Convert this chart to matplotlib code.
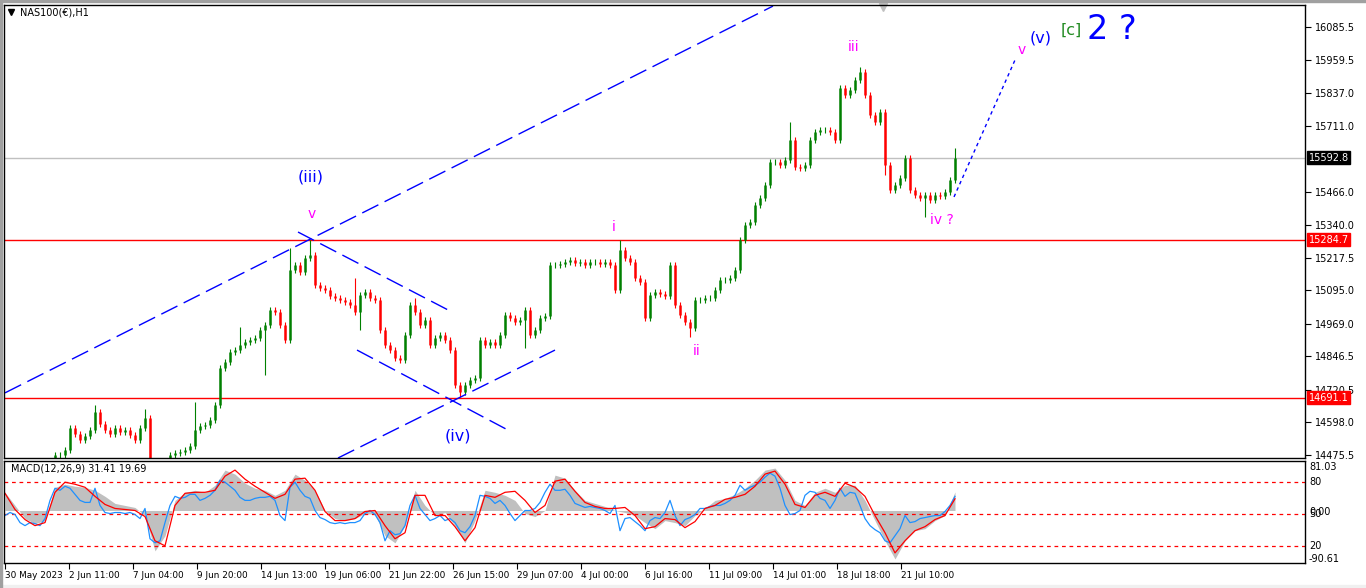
import matplotlib.pyplot as plt
import numpy as np

# hourly closes, one sample every 5 bars (30 May - 24 Jul 2023)
closes = [
    14400, 14389, 14411, 14396, 14419, 14404, 14426, 14411, 14434, 14449,
    14475, 14475, 14494, 14577, 14554, 14532, 14547, 14569, 14637, 14592,
    14569, 14554, 14577, 14562, 14569, 14551, 14532, 14577, 14614, 14411,
    14396, 14419, 14449, 14475, 14483, 14487, 14494, 14509, 14569, 14584,
    14588, 14607, 14663, 14803, 14825, 14863, 14870, 14889, 14900, 14908,
    14915, 14946, 14964, 15021, 15013, 14964, 14908, 15171, 15190, 15164,
    15216, 15228, 15115, 15104, 15096, 15073, 15066, 15058, 15051, 15040,
    15013, 15077, 15088, 15066, 15058, 14946, 14889, 14870, 14840, 14833,
    14927, 15040, 15013, 14964, 14983, 14889, 14915, 14927, 14908, 14870,
    14739, 14712, 14739, 14757, 14765, 14908, 14889, 14900, 14889, 14927,
    15002, 14991, 14976, 14983, 15021, 14927, 14946, 14991, 14998, 15190,
    15190, 15194, 15201, 15209, 15198, 15201, 15190, 15201, 15201, 15194,
    15201, 15190, 15096, 15246, 15216, 15201, 15141, 15126, 14991, 15077,
    15088, 15081, 15073, 15190, 15040, 15002, 14976, 14953, 15058, 15058,
    15066, 15066, 15096, 15134, 15134, 15141, 15171, 15284, 15341, 15352,
    15416, 15442, 15491, 15578, 15578, 15566, 15585, 15660, 15559, 15555,
    15566, 15660, 15690, 15698, 15698, 15690, 15660, 15856, 15830, 15848,
    15886, 15916, 15830, 15754, 15728, 15766, 15566, 15472, 15491, 15517,
    15593, 15472, 15453, 15442, 15453, 15435, 15453, 15450, 15465, 15510,
    15592.8,
]
spike_idx = [18, 28, 38, 47, 52, 57, 61, 70, 71, 82, 91, 104, 123, 137, 147, 157, 171, 176, 184, 190]
spike_price = [14663, 14648, 14675, 14957, 14776, 15254, 15284.7, 15141, 14946, 15066,
               14693, 14878, 15284, 14919, 15209, 15728, 15935, 15530, 15371, 15630]

# MACD panel, histogram and signal one sample every 10 bars
macd_hist = [
    30.6, 8.5, -13.6, -22.1, -17, 39.1, 44.2, 40.8, 39.1, 34,
    23.8, 11.9, 8.5, 5.1, -8.5, -68, -42.5, 17, 30.6, 34,
    30.6, 42.5, 68, 61.2, 45.9, 37.4, 34, 25.5, 34, 61.2,
    51, 34, 0, -13.6, -17, -13.6, -5.1, -6.8, -42.5, -54.4,
    -25.5, 34, 8.5, -8.5, -3.4, -25.5, -54.4, -17, 34, 30.6,
    25.5, 17, -5.1, -10.2, 0, 59.5, 54.4, 34, 17, 11.9,
    6.8, 0, -3.4, -8.5, -20.4, -30.6, -17, -20.4, -25.5, -8.5,
    3.4, 17, 20.4, 27.2, 37.4, 51, 68, 71.4, 51, 17,
    8.5, 30.6, 37.4, 30.6, 42.5, 42.5, 17, -17, -51, -81.6,
    -51, -34, -30.6, -17, -8.5, 31.41,
]
macd_signal = [
    28.9, 1.7, -15.3, -25.5, -20.4, 30.6, 47.6, 44.2, 39.1, 23.8,
    10.2, 3.4, 1.7, 0, -10.2, -51, -59.5, 8.5, 28.9, 30.6,
    30.6, 34, 57.8, 68, 52.7, 40.8, 30.6, 20.4, 27.2, 52.7,
    54.4, 34, -1.7, -17, -17, -13.6, -1.7, 0, -25.5, -47.6,
    -37.4, 25.5, 25.5, -8.5, -8.5, -27.2, -51, -28.9, 25.5, 22.1,
    30.6, 32.3, 17, -3.4, 8.5, 49.3, 52.7, 32.3, 13.6, 6.8,
    3.4, 3.4, 5.1, -8.5, -30.6, -27.2, -13.6, -15.3, -28.9, -18.7,
    3.4, 8.5, 18.7, 22.1, 27.2, 40.8, 61.2, 66.3, 44.2, 10.2,
    5.1, 25.5, 30.6, 23.8, 45.9, 39.1, 23.8, -8.5, -37.4, -71.4,
    -51, -34, -27.2, -15.3, -8.5, 19.69,
]
# fast line, one sample every 5 bars
macd_fast = [
    -8.5, -3.4, -6.8, -20.4, -25.5, -20.4, -22.1, -25.5, -13.6, 17,
    37.4, 34, 40.8, 37.4, 27.2, 17, 13.6, 13.6, 37.4, 8.5,
    -3.4, -5.1, -3.4, -3.4, -5.1, -3.4, -6.8, -13.6, 3.4, -47.6,
    -54.4, -51, -20.4, 8.5, 23.8, 20.4, 22.1, 27.2, 27.2, 17,
    20.4, 25.5, 34, 51, 47.6, 40.8, 34, 22.1, 17, 17,
    20.4, 22.1, 22.1, 23.8, 17, -8.5, -17, 39.1, 47.6, 34,
    23.8, 20.4, 0, -11.9, -15.3, -20.4, -22.1, -20.4, -22.1, -20.4,
    -20.4, -17, -5.1, 0, -6.8, -20.4, -51, -34, -40.8, -39.1,
    -25.5, 8.5, 25.5, 3.4, -6.8, -17, -13.6, -8.5, -17, -13.6,
    -20.4, -34, -37.4, -27.2, -8.5, 25.5, 23.8, 20.4, 11.9, 17,
    8.5, -5.1, -17, -8.5, 0, 0, 3.4, 13.6, 30.6, 44.2,
    34, 34, 35.7, 25.5, 11.9, 8.5, 5.1, 6.8, 5.1, 3.4,
    0, -5.1, 8.5, -34, -13.6, -11.9, -18.7, -25.5, -34, -17,
    -11.9, -13.6, -3.4, 17, -8.5, -25.5, -15.3, -11.9, -6.8, 3.4,
    3.4, 6.8, 8.5, 8.5, 11.9, 17, 25.5, 42.5, 34, 39.1,
    42.5, 47.6, 56.1, 62.9, 57.8, 37.4, 8.5, -6.8, -5.1, 0,
    25.5, 32.3, 30.6, 20.4, 17, 3.4, 17, 37.4, 23.8, 30.6,
    28.9, 8.5, -13.6, -25.5, -32.3, -37.4, -51, -54.4, -42.5, -30.6,
    -8.5, -20.4, -18.7, -13.6, -11.9, -10.2, -8.5, -8.5, -1.7, 8.5,
    23.8,
]
macd_levels = [47.6, -5.1, -59.5]

date_labels = ["30 May 2023", "2 Jun 11:00", "7 Jun 04:00", "9 Jun 20:00", "14 Jun 13:00",
               "19 Jun 06:00", "21 Jun 22:00", "26 Jun 15:00", "29 Jun 07:00", "4 Jul 00:00",
               "6 Jul 16:00", "11 Jul 09:00", "14 Jul 01:00", "18 Jul 18:00", "21 Jul 10:00"]
price_ticks = [16085.5, 15959.5, 15837.0, 15711.0, 15466.0, 15340.0, 15217.5,
               15095.0, 14969.0, 14846.5, 14720.5, 14598.0, 14475.5]
last_price = 15592.8
red_levels = [15284.7, 14691.1]

# wave labels (sample index, price)
wave_text = ["(iii)", "v", "(iv)", "i", "ii", "iii", "iv ?", "v", "(v)", "[c]", "2 ?"]
wave_x = [61.2, 61.4, 90.6, 121.8, 138.4, 169.8, 187.4, 203.4, 207.2, 213.2, 221.4]
wave_y = [15521, 15382, 14547, 15333, 14867, 16010, 15359, 15999, 16044, 16074, 16074]
wave_color = ["blue", "#ff00ff", "blue", "#ff00ff", "#ff00ff", "#ff00ff", "#ff00ff",
              "#ff00ff", "blue", "#228b22", "blue"]
wave_size = [11.5, 10, 11.5, 10, 10, 10, 10, 10, 11.5, 11.5, 24]

# trend lines (x0, p0, x1, p1)
channel_lines = [
    (0, 14709, 153.6, 16164),
    (66.6, 14464, 110, 14870),
    (58.6, 15314, 88.6, 15021),
    (70.4, 14870, 100.6, 14569),
]
projection = (189.8, 15446, 202, 15961)

W, H = 1366, 588
fig = plt.figure(figsize=(W / 100, H / 100), dpi=100)
ax = fig.add_axes([4 / W, 1 - 458 / H, 1301 / W, 453 / H])
am = fig.add_axes([4 / W, 1 - 563 / H, 1301 / W, 102 / H])

closes = np.array(closes, dtype=float)
opens = np.r_[closes[0], closes[:-1]]
x = np.arange(len(closes))
hi = np.maximum(opens, closes) + 12
lo = np.minimum(opens, closes) - 12
for i, p in zip(spike_idx, spike_price):
    if p > hi[i]:
        hi[i] = p
    elif p < lo[i]:
        lo[i] = p
cols = np.where(closes >= opens, "#008000", "#ff0000")

ax.axhline(last_price, color="#c0c0c0", lw=1)
for lv in red_levels:
    ax.axhline(lv, color="#ff0000", lw=1)

ax.vlines(x, lo, hi, colors=cols, lw=0.8)
ax.vlines(x, opens, closes, colors=cols, lw=1.8)

for x0, p0, x1, p1 in channel_lines:
    ax.plot([x0, x1], [p0, p1], color="#0000ff", lw=1, dashes=(13, 5))
ax.plot([projection[0], projection[2]], [projection[1], projection[3]],
        color="#0000ff", lw=1, dashes=(2.5, 2.5))

for t, tx, ty, c, s in zip(wave_text, wave_x, wave_y, wave_color, wave_size):
    ax.text(tx, ty, t, color=c, fontsize=s, ha="center", va="center")

ax.set_xlim(-0.2, 260)
ax.set_ylim(14464, 16168)
ax.set_xticks([])
ax.yaxis.tick_right()
ax.set_yticks(price_ticks)
ax.set_yticklabels(["%.1f" % v for v in price_ticks])
ax.tick_params(axis="y", direction="out", length=4, labelsize=7, pad=3, colors="black")
for sp in ax.spines.values():
    sp.set_color("black")
    sp.set_linewidth(1)

tr = ax.get_yaxis_transform()
ax.text(1.003, last_price, "%.1f" % last_price, transform=tr, fontsize=7, color="white",
        va="center", ha="left", zorder=5,
        bbox=dict(boxstyle="square,pad=0.15", fc="black", ec="black"))
for lv in red_levels:
    ax.text(1.003, lv, "%.1f" % lv, transform=tr, fontsize=7, color="white",
            va="center", ha="left", zorder=5,
            bbox=dict(boxstyle="square,pad=0.15", fc="#ff0000", ec="#ff0000"))

ax.plot([0.0054], [0.9845], marker="v", color="black", ms=4, transform=ax.transAxes)
ax.text(0.0123, 0.9845, "NAS100(\u20ac),H1", transform=ax.transAxes, fontsize=7,
        va="center", ha="left")
ax.plot([0.6756], [0.9956], marker="v", color="#c0c0c0", ms=6, transform=ax.transAxes,
        clip_on=False)

# MACD panel
xh = np.arange(len(macd_hist)) * 2
xf = np.arange(len(macd_fast))
am.fill_between(xh, 0, macd_hist, color="#c0c0c0", lw=0)
for lv in macd_levels:
    am.axhline(lv, color="#ff0000", lw=0.9, dashes=(3, 3))
am.plot(xf, macd_fast, color="#1e90ff", lw=0.9)
am.plot(xh, macd_signal, color="#ff0000", lw=0.9)
am.set_xlim(-0.2, 260)
am.set_ylim(-88.4, 83.3)
am.set_yticks([])
for sp in am.spines.values():
    sp.set_color("black")
    sp.set_linewidth(1)
am.text(0.005, 0.93, "MACD(12,26,9) 31.41 19.69", transform=am.transAxes, fontsize=7,
        va="center", ha="left")

tm = am.get_yaxis_transform()
for lab, v in [("81.03", 73), ("80", 47.6), ("50", -5.1), ("0.00", -2.0), ("20", -59.5), ("-90.61", -81.6)]:
    am.text(1.003, v, lab, transform=tm, fontsize=7, va="center", ha="left")

tick_pos = np.arange(len(date_labels)) * 12.8
am.set_xticks(tick_pos)
am.set_xticklabels(date_labels, ha="left")
am.tick_params(axis="x", direction="out", length=4, labelsize=6.4, pad=2)

fig.add_artist(plt.Rectangle((0, 0), 1, 3 / H, transform=fig.transFigure, color="#f0f0f0"))
fig.add_artist(plt.Rectangle((0, 0), 2 / W, 1, transform=fig.transFigure, color="#a0a0a0"))
fig.add_artist(plt.Rectangle((0, 1 - 2 / H), 1, 2 / H, transform=fig.transFigure, color="#a0a0a0"))

fig.savefig("out.png", dpi=100)
